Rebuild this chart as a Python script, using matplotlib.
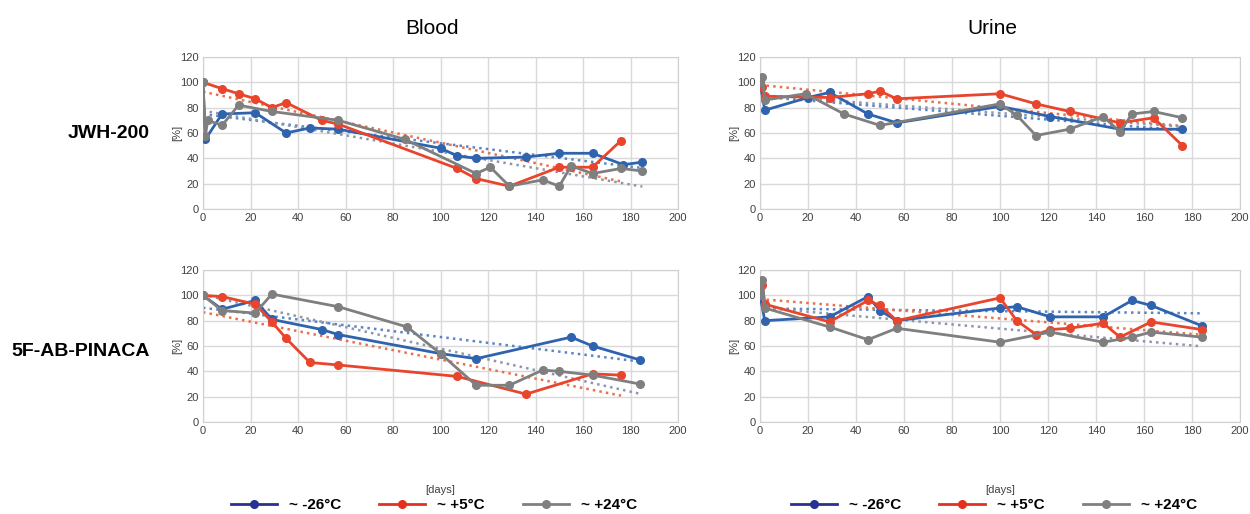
import matplotlib
matplotlib.use("Agg")
import matplotlib.pyplot as plt
import numpy as np

plt.rcParams['font.family'] = ['Liberation Sans', 'DejaVu Sans']

# JWH-200, blood
jb_blue_d = [0, 1, 8, 22, 35, 45, 57, 100, 107, 115, 136, 150, 164, 177, 185]
jb_blue_v = [100, 55, 75, 76, 60, 64, 63, 48, 42, 40, 41, 44, 44, 35, 37]
jb_red_d = [0, 8, 15, 22, 29, 35, 50, 57, 107, 115, 129, 150, 155, 164, 176]
jb_red_v = [100, 95, 91, 87, 80, 84, 70, 67, 32, 24, 18, 33, 33, 33, 54]
jb_gray_d = [0, 1, 2, 8, 15, 29, 57, 85, 115, 121, 129, 143, 150, 155, 164, 176, 185]
jb_gray_v = [100, 58, 70, 66, 82, 77, 70, 55, 28, 33, 18, 23, 18, 34, 28, 32, 30]

# JWH-200, urine
ju_blue_d = [0, 2, 20, 29, 45, 57, 100, 121, 150, 176]
ju_blue_v = [100, 78, 88, 92, 75, 68, 81, 73, 63, 63]
ju_red_d = [0, 1, 2, 29, 45, 50, 57, 100, 115, 129, 150, 164, 176]
ju_red_v = [100, 96, 89, 88, 91, 93, 87, 91, 83, 77, 68, 72, 50]
ju_gray_d = [0, 1, 2, 19, 35, 50, 100, 107, 115, 129, 143, 150, 155, 164, 176]
ju_gray_v = [100, 104, 86, 91, 75, 66, 83, 74, 58, 63, 73, 61, 75, 77, 72]

# 5F-AB-PINACA, blood
pb_blue_d = [0, 8, 22, 29, 50, 57, 100, 115, 155, 164, 184]
pb_blue_v = [100, 89, 96, 81, 73, 69, 54, 50, 67, 60, 49]
pb_red_d = [0, 8, 22, 29, 35, 45, 57, 107, 136, 164, 176]
pb_red_v = [100, 99, 93, 79, 66, 47, 45, 36, 22, 38, 37]
pb_gray_d = [0, 8, 22, 29, 57, 86, 100, 115, 129, 143, 150, 164, 184]
pb_gray_v = [100, 88, 86, 101, 91, 75, 54, 29, 29, 41, 40, 37, 30]

# 5F-AB-PINACA, urine
pu_blue_d = [0, 2, 29, 45, 50, 57, 100, 107, 121, 143, 155, 163, 184]
pu_blue_v = [100, 80, 83, 99, 88, 80, 90, 91, 83, 83, 96, 92, 76]
pu_red_d = [0, 1, 2, 29, 45, 50, 57, 100, 107, 115, 121, 129, 143, 150, 163, 184]
pu_red_v = [100, 108, 93, 79, 96, 92, 80, 98, 80, 69, 73, 74, 78, 67, 79, 73]
pu_gray_d = [0, 1, 2, 29, 45, 57, 100, 121, 143, 155, 163, 184]
pu_gray_v = [100, 112, 90, 75, 65, 74, 63, 71, 63, 67, 71, 67]

temps = ['~ -26°C', '~ +5°C', '~ +24°C']
colors = ['#2F63AE', '#E8452C', '#7F7F7F']
trend_colors = ['#5A85C6', '#E8704A', '#8E97AA']
legend_colors = ['#2B2F8F', '#E5301F', '#808080']

panels = [
    [(jb_blue_d, jb_blue_v), (jb_red_d, jb_red_v), (jb_gray_d, jb_gray_v)],
    [(ju_blue_d, ju_blue_v), (ju_red_d, ju_red_v), (ju_gray_d, ju_gray_v)],
    [(pb_blue_d, pb_blue_v), (pb_red_d, pb_red_v), (pb_gray_d, pb_gray_v)],
    [(pu_blue_d, pu_blue_v), (pu_red_d, pu_red_v), (pu_gray_d, pu_gray_v)],
]

fig = plt.figure(figsize=(12.5, 5.14), dpi=100)
W, H = 1250, 514
boxes = [(203, 57, 678, 209), (760, 57, 1240, 209),
         (203, 270, 678, 422), (760, 270, 1240, 422)]

for i, (x0, y0, x1, y1) in enumerate(boxes):
    ax = fig.add_axes([x0 / W, 1 - y1 / H, (x1 - x0) / W, (y1 - y0) / H])
    for (d, v), c, tc in zip(panels[i], colors, trend_colors):
        d = np.array(d, dtype=float)
        v = np.array(v, dtype=float)
        k, b = np.polyfit(d, v, 1)
        xs = np.array([0, d.max()])
        ax.plot(xs, k * xs + b, ':', color=tc, lw=1.8, zorder=2)
        ax.plot(d, v, '-o', color=c, lw=2, ms=5.5, zorder=3)
    ax.set_xlim(0, 200)
    ax.set_ylim(0, 120)
    ax.set_xticks(range(0, 201, 20))
    ax.set_yticks(range(0, 121, 20))
    ax.grid(True, color='#D9D9D9', lw=1)
    ax.set_axisbelow(True)
    for s in ax.spines.values():
        s.set_color('#D0D0D0')
    ax.tick_params(length=0, labelsize=8, labelcolor='#404040', pad=3)
    ax.set_ylabel('[%]', fontsize=8, color='#404040')
    ax.yaxis.set_label_coords(-21 / (x1 - x0), 0.5)

fig.text(432 / W, 1 - 28 / H, 'Blood', ha='center', va='center', fontsize=15)
fig.text(992 / W, 1 - 28 / H, 'Urine', ha='center', va='center', fontsize=15)
fig.text(150 / W, 1 - 133 / H, 'JWH-200', ha='right', va='center', fontsize=14, fontweight='bold')
fig.text(150 / W, 1 - 352 / H, '5F-AB-PINACA', ha='right', va='center', fontsize=14, fontweight='bold')
fig.text(440 / W, 1 - 490 / H, '[days]', ha='center', va='center', fontsize=8, color='#404040')
fig.text(1000 / W, 1 - 490 / H, '[days]', ha='center', va='center', fontsize=8, color='#404040')

handles = [plt.Line2D([], [], color=c, marker='o', lw=2, ms=5.5) for c in legend_colors]
for cx in (434, 994):
    fig.legend(handles, temps, loc='center', bbox_to_anchor=(cx / W, 1 - 505 / H),
               ncol=3, frameon=False, columnspacing=2.5, handlelength=3.0,
               prop={'weight': 'bold', 'size': 11})

fig.savefig('out.png', dpi=100)
